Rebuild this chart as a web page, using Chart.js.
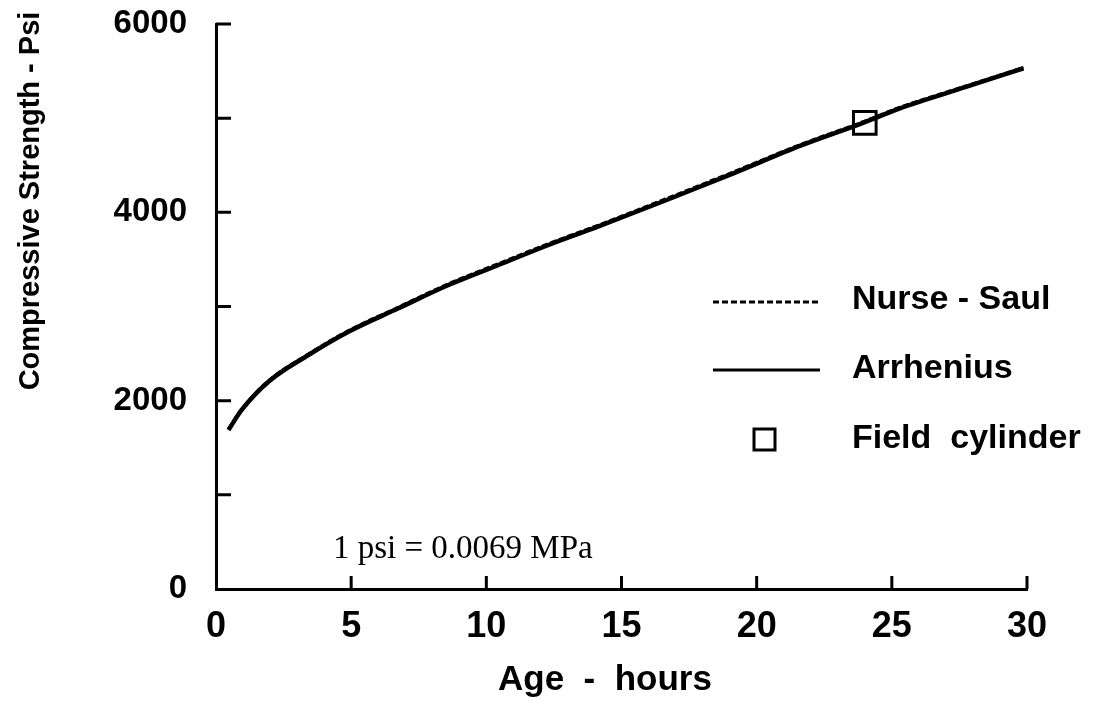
<!DOCTYPE html>
<html>
<head>
<meta charset="utf-8">
<script src="https://cdn.jsdelivr.net/npm/chart.js@4/dist/chart.umd.min.js"></script>
<style>
  html, body { margin: 0; padding: 0; background: #fff; }
  canvas { display: block; }
</style>
</head>
<body>
<canvas id="myChart" width="1095" height="706"></canvas>
<script>
// values
const ageHours = [0.46, 0.95, 1.94, 3.42, 4.9, 6.75, 8.6, 10.45, 12.3, 14.15, 16.67, 19.14, 21.6, 23.89, 25.3, 27.77, 29.87]
const arrhenius = [1688, 1901, 2201, 2485, 2732, 2981, 3228, 3441, 3653, 3850, 4131, 4414, 4705, 4945, 5104, 5334, 5530]
const nurseSaul = [1698, 1910, 2211, 2496, 2744, 2994, 3242, 3456, 3668, 3865, 4147, 4430, 4718, 4957, 5116, 5345, 5538]
const fieldAge = [24]
const fieldStrength = [4950]
const xTicks = [0, 5, 10, 15, 20, 25, 30]
const yTicks = [0, 1000, 2000, 3000, 4000, 5000, 6000]

const toPoints = (xs, ys) => xs.map((x, i) => ({ x: x, y: ys[i] }))

const bold = 'bold'
const sans = '"Liberation Sans", Arial, sans-serif'

// tick marks point inward, so draw them here
const innerTicks = {
    id: 'innerTicks',
    afterDraw(chart) {
        const ctx = chart.ctx
        const xs = chart.scales.x
        const ys = chart.scales.y
        const left = chart.chartArea.left
        const bottom = chart.chartArea.bottom
        ctx.save()
        ctx.strokeStyle = '#000'
        ctx.lineWidth = 3
        ctx.beginPath()
        yTicks.forEach(v => {
            if (v === 0) return
            const py = ys.getPixelForValue(v)
            ctx.moveTo(left, py)
            ctx.lineTo(left + 15, py)
        })
        xTicks.forEach(v => {
            if (v === 0) return
            const px = xs.getPixelForValue(v)
            ctx.moveTo(px, bottom)
            ctx.lineTo(px, bottom - 13)
        })
        ctx.stroke()
        ctx.restore()
    }
}

// legend, note and axis titles
const insideText = {
    id: 'insideText',
    afterDraw(chart) {
        const ctx = chart.ctx
        ctx.save()
        ctx.fillStyle = '#000'
        ctx.strokeStyle = '#000'

        ctx.lineWidth = 3
        ctx.setLineDash([6, 3])
        ctx.beginPath()
        ctx.moveTo(713, 302)
        ctx.lineTo(820, 302)
        ctx.stroke()
        ctx.setLineDash([])
        ctx.beginPath()
        ctx.moveTo(713, 370)
        ctx.lineTo(820, 370)
        ctx.stroke()
        ctx.strokeRect(754, 429, 21, 21)

        ctx.font = bold + ' 34px ' + sans
        ctx.textBaseline = 'middle'
        ctx.textAlign = 'left'
        ctx.fillText('Nurse - Saul', 852, 300)
        ctx.fillText('Arrhenius', 852, 369)
        ctx.fillText('Field  cylinder', 852, 439)

        ctx.font = '33px "Liberation Serif", "Times New Roman", serif'
        ctx.textBaseline = 'alphabetic'
        ctx.fillText('1 psi = 0.0069 MPa', 333, 558)

        ctx.textAlign = 'center'
        ctx.textBaseline = 'middle'
        ctx.font = bold + ' 35px ' + sans
        ctx.fillText('Age  -  hours', 605, 680)

        ctx.translate(31, 201)
        ctx.rotate(-Math.PI / 2)
        ctx.font = bold + ' 29px ' + sans
        ctx.fillText('Compressive Strength - Psi', 0, 0)
        ctx.restore()
    }
}

const ctx = document.getElementById('myChart')
const myChart = new Chart(ctx, {
    type: 'line',
    data: {
        datasets: [{
            label: 'Nurse - Saul',
            data: toPoints(ageHours, nurseSaul),
            borderColor: '#000',
            borderWidth: 3,
            borderDash: [6, 3],
            pointRadius: 0,
            cubicInterpolationMode: 'monotone',
            fill: false,
            order: 0
        },
        {
            label: 'Arrhenius',
            data: toPoints(ageHours, arrhenius),
            borderColor: '#000',
            borderWidth: 4.5,
            pointRadius: 0,
            cubicInterpolationMode: 'monotone',
            fill: false,
            order: 1
        },
        {
            label: 'Field cylinder',
            type: 'scatter',
            data: toPoints(fieldAge, fieldStrength),
            pointStyle: 'rect',
            pointRadius: 16,
            borderColor: '#000',
            borderWidth: 3,
            backgroundColor: 'rgba(0,0,0,0)',
            order: -1
        }]
    },
    options: {
        responsive: false,
        devicePixelRatio: 1,
        animation: false,
        layout: { padding: { top: 24, right: 68, left: 0, bottom: 0 } },
        plugins: {
            legend: { display: false },
            tooltip: { enabled: false }
        },
        scales: {
            x: {
                type: 'linear',
                min: 0,
                max: 30,
                afterFit: (scale) => {
                    scale.height = 117
                    scale.paddingLeft = 0
                    scale.paddingRight = 0
                },
                afterBuildTicks: (scale) => { scale.ticks = xTicks.map(v => ({ value: v })) },
                grid: { display: false, drawTicks: false },
                border: { display: true, color: '#000', width: 3 },
                ticks: {
                    color: '#000',
                    padding: 16,
                    maxRotation: 0,
                    font: { family: sans, size: 36, weight: bold }
                }
            },
            y: {
                min: 0,
                max: 6000,
                afterFit: (scale) => {
                    scale.width = 216
                    scale.paddingTop = 0
                    scale.paddingBottom = 0
                },
                afterBuildTicks: (scale) => { scale.ticks = yTicks.map(v => ({ value: v })) },
                grid: { display: false, drawTicks: false },
                border: { display: true, color: '#000', width: 3 },
                ticks: {
                    color: '#000',
                    padding: 29,
                    callback: (v) => (v % 2000 === 0 ? String(v) : ''),
                    font: { family: sans, size: 33, weight: bold }
                }
            }
        }
    },
    plugins: [innerTicks, insideText]
});
</script>
</body>
</html>
